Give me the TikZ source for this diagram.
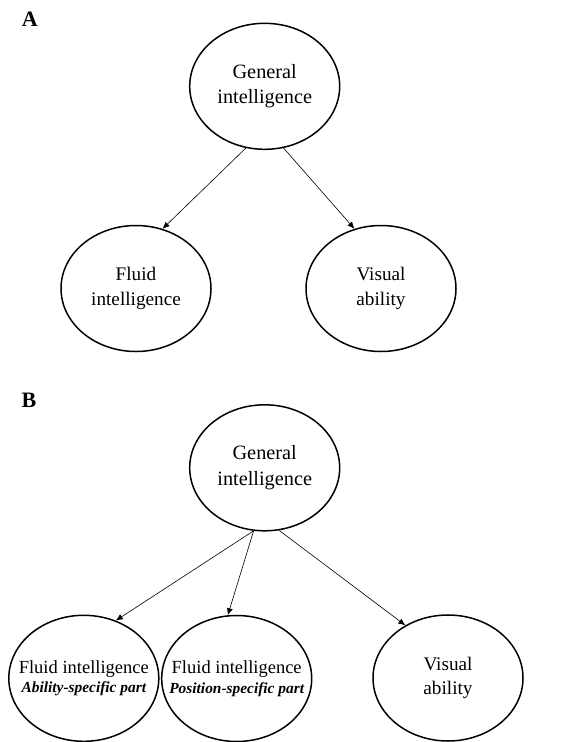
\documentclass[tikz,border=0pt]{standalone}
\usepackage{fontspec}
\setmainfont{Liberation Serif}
\usetikzlibrary{shapes, arrows.meta}

\begin{document}
\begin{tikzpicture}[x=1pt, y=-1pt,
	latent/.style={draw, ellipse, line width=1.5pt, minimum width=150pt, minimum height=126pt, inner ysep=0pt, inner xsep=-24pt, align=center},
	loading/.style={->, line width=0.6pt, >={Latex[length=7pt, width=6pt]}},
	panel/.style={font=\fontsize{22}{26}\selectfont\bfseries}]
	\def \genfont {\fontsize{20.3}{25.5}\selectfont}
	\def \midfont {\fontsize{19.2}{24.7}\selectfont}
	\def \fluidfont {\fontsize{18.5}{19.7}\selectfont}
	\def \partfont {\fontsize{15.4}{18}\selectfont\bfseries\itshape}

	\useasboundingbox (0,0) rectangle (573,742);

	% panel A
	\node[panel] (labelA) at (29.7,19.5) {A};

	\node[latent, font=\genfont] (generalA) at (264.7,86.3)
		{General\\intelligence};
	\node[latent, font=\midfont] (fluidA)   at (136,288.5)
		{Fluid\\intelligence};
	\node[latent, font=\midfont] (visualA)  at (381,288.5)
		{Visual\\ability};

	\draw[loading] (generalA.-107) -- (fluidA.66);
	\draw[loading] (generalA.-73.5) -- (visualA.114);

	% panel B
	\node[panel] (labelB) at (29,400) {B};

	\node[latent, font=\genfont] (generalB)       at (264.7,467.8)
		{General\\intelligence};
	\node[latent, font=\fluidfont] (fluidabilityB)  at (83.8,678.3)
		{Fluid intelligence\\{\partfont Ability-specific part}};
	\node[latent, font=\fluidfont] (fluidpositionB) at (236.7,678.5)
		{Fluid intelligence\\{\partfont Position-specific part}};
	\node[latent, font=\midfont] (visualB)        at (448,678)
		{Visual\\ability};

	\draw[loading] (generalB.-100.6) -- (fluidabilityB.61.3);
	\draw[loading] (generalB.-100.6) -- (fluidpositionB.98.2);
	\draw[loading] (generalB.-77) -- (visualB.129.6);
\end{tikzpicture}
\end{document}
